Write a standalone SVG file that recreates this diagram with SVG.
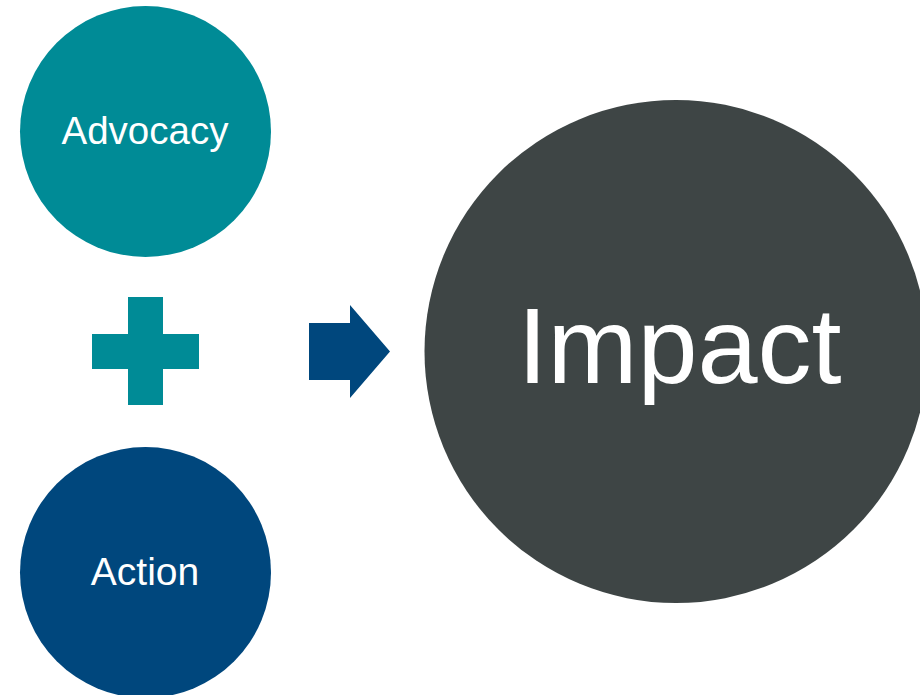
<svg xmlns="http://www.w3.org/2000/svg" width="920" height="695" viewBox="0 0 920 695">
  <style>
    .lbl { font-family: "Liberation Sans", Arial, sans-serif; fill: #ffffff; text-anchor: middle; }
  </style>
  <rect width="920" height="695" fill="#ffffff"/>
  <g id="advocacy">
    <circle cx="145.5" cy="131.5" r="125.5" fill="#008B96"/>
    <text class="lbl" x="145" y="144" font-size="38.5">Advocacy</text>
  </g>
  <g id="plus">
    <path d="M128 297 H163 V334 H199 V369 H163 V405 H128 V369 H92 V334 H128 Z" fill="#008B96"/>
  </g>
  <g id="action">
    <circle cx="145.5" cy="572.5" r="125.5" fill="#00477D"/>
    <text class="lbl" x="145" y="585" font-size="39">Action</text>
  </g>
  <g id="connectors">
    <path d="M309 323 H350 V305 L390 351.5 L350 398 V380 H309 Z" fill="#00477D"/>
  </g>
  <g id="impact">
    <circle cx="676" cy="351.5" r="251.5" fill="#3E4545"/>
    <text class="lbl" x="679.5" y="383" font-size="108">Impact</text>
  </g>
</svg>
